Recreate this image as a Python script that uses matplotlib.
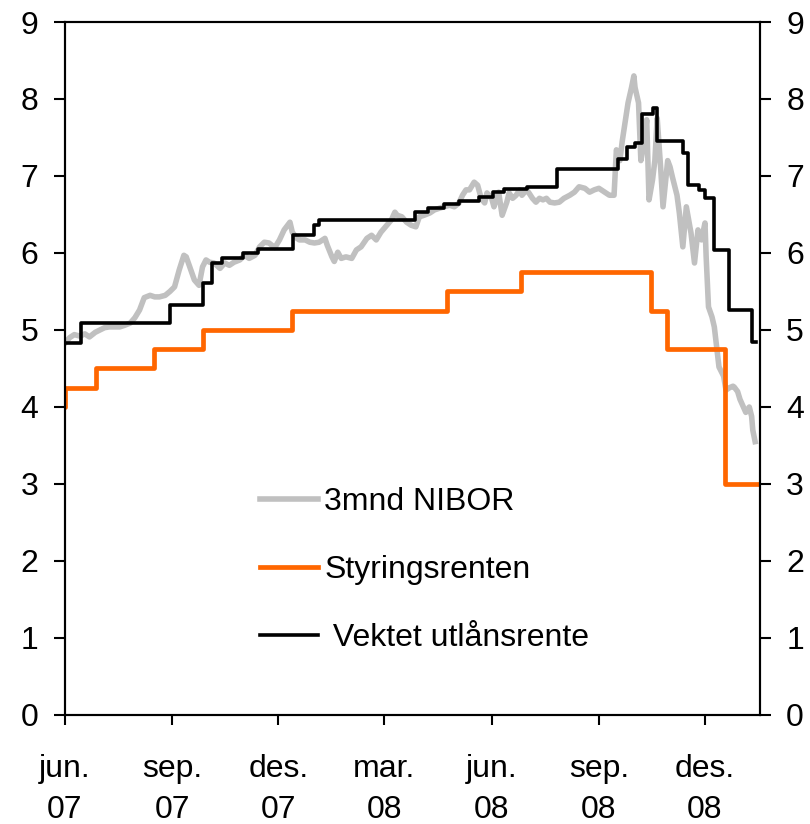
import matplotlib
matplotlib.use("Agg")
import matplotlib.pyplot as plt
import pandas as pd

plt.rcParams['font.family'] = ['Liberation Sans', 'DejaVu Sans']

# 3mnd NIBOR
nibor_dates = [
    "2007-06-01", "2007-06-05", "2007-06-09", "2007-06-14", "2007-06-18", "2007-06-22", "2007-06-27",
    "2007-07-01", "2007-07-05", "2007-07-09", "2007-07-14", "2007-07-18", "2007-07-22", "2007-07-27",
    "2007-07-31", "2007-08-04", "2007-08-08", "2007-08-13", "2007-08-17", "2007-08-21", "2007-08-26",
    "2007-08-30", "2007-09-03", "2007-09-07", "2007-09-11", "2007-09-13", "2007-09-16", "2007-09-20",
    "2007-09-24", "2007-09-27", "2007-09-30", "2007-10-03", "2007-10-07", "2007-10-12", "2007-10-16",
    "2007-10-20", "2007-10-24", "2007-10-29", "2007-11-02", "2007-11-06", "2007-11-11", "2007-11-15",
    "2007-11-19", "2007-11-23", "2007-11-28", "2007-12-02", "2007-12-06", "2007-12-11", "2007-12-13",
    "2007-12-17", "2007-12-19", "2007-12-24", "2007-12-28", "2008-01-01", "2008-01-05", "2008-01-10",
    "2008-01-12", "2008-01-16", "2008-01-18", "2008-01-21", "2008-01-24", "2008-01-28", "2008-02-02",
    "2008-02-06", "2008-02-10", "2008-02-15", "2008-02-19", "2008-02-23", "2008-02-27", "2008-03-03",
    "2008-03-07", "2008-03-10", "2008-03-12", "2008-03-16", "2008-03-20", "2008-03-24", "2008-03-28",
    "2008-03-31", "2008-04-04", "2008-04-09", "2008-04-13", "2008-04-17", "2008-04-21", "2008-04-26",
    "2008-04-30", "2008-05-04", "2008-05-07", "2008-05-10", "2008-05-13", "2008-05-17", "2008-05-20",
    "2008-05-23", "2008-05-26", "2008-05-28", "2008-06-01", "2008-06-03", "2008-06-07", "2008-06-10",
    "2008-06-14", "2008-06-16", "2008-06-19", "2008-06-22", "2008-06-25", "2008-06-27", "2008-07-01",
    "2008-07-03", "2008-07-06", "2008-07-09", "2008-07-12", "2008-07-15", "2008-07-18", "2008-07-21",
    "2008-07-25", "2008-07-29", "2008-08-02", "2008-08-07", "2008-08-11", "2008-08-15", "2008-08-20",
    "2008-08-24", "2008-08-28", "2008-09-01", "2008-09-06", "2008-09-10", "2008-09-14", "2008-09-16",
    "2008-09-19", "2008-09-21", "2008-09-24", "2008-09-26", "2008-09-29", "2008-10-01", "2008-10-02",
    "2008-10-05", "2008-10-07", "2008-10-10", "2008-10-12", "2008-10-14", "2008-10-17", "2008-10-19",
    "2008-10-21", "2008-10-24", "2008-10-26", "2008-10-28", "2008-10-30", "2008-11-01", "2008-11-03",
    "2008-11-07", "2008-11-09", "2008-11-12", "2008-11-15", "2008-11-19", "2008-11-22", "2008-11-25",
    "2008-11-28", "2008-12-01", "2008-12-02", "2008-12-04", "2008-12-07", "2008-12-09", "2008-12-11",
    "2008-12-13", "2008-12-17", "2008-12-19", "2008-12-22", "2008-12-25", "2008-12-26", "2008-12-29",
    "2008-12-31", "2009-01-03", "2009-01-05", "2009-01-08", "2009-01-10", "2009-01-11", "2009-01-13",
]
nibor_vals = [
    4.83, 4.90, 4.94, 4.92, 4.95, 4.91, 4.97,
    5.00, 5.03, 5.04, 5.04, 5.04, 5.06, 5.09,
    5.16, 5.26, 5.42, 5.45, 5.43, 5.43, 5.45,
    5.50, 5.56, 5.78, 5.97, 5.95, 5.82, 5.65,
    5.58, 5.82, 5.91, 5.88, 5.87, 5.80, 5.87,
    5.84, 5.88, 5.91, 5.97, 5.93, 5.97, 6.08,
    6.14, 6.13, 6.07, 6.17, 6.30, 6.40, 6.27,
    6.19, 6.17, 6.17, 6.14, 6.13, 6.14, 6.19,
    6.10, 5.95, 5.89, 6.01, 5.93, 5.95, 5.93,
    6.04, 6.08, 6.19, 6.23, 6.17, 6.27, 6.36,
    6.43, 6.53, 6.49, 6.47, 6.40, 6.36, 6.34,
    6.47, 6.49, 6.52, 6.56, 6.58, 6.60, 6.62,
    6.60, 6.65, 6.75, 6.82, 6.82, 6.92, 6.88,
    6.71, 6.65, 6.78, 6.71, 6.60, 6.79, 6.49,
    6.66, 6.78, 6.71, 6.75, 6.82, 6.75, 6.82,
    6.78, 6.71, 6.66, 6.71, 6.69, 6.71, 6.66,
    6.65, 6.66, 6.71, 6.75, 6.79, 6.86, 6.84,
    6.79, 6.82, 6.84, 6.79, 6.75, 6.75, 7.34,
    7.20, 7.45, 7.75, 7.95, 8.15, 8.30, 8.15,
    7.95, 7.20, 7.45, 7.73, 6.69, 6.95, 7.20,
    7.75, 7.10, 6.60, 6.90, 7.20, 7.12, 6.99,
    6.75, 6.52, 6.08, 6.60, 6.26, 5.87, 6.30,
    6.17, 6.39, 5.95, 5.30, 5.17, 5.04, 4.78,
    4.52, 4.40, 4.22, 4.25, 4.27, 4.26, 4.20,
    4.10, 4.00, 3.93, 4.00, 3.88, 3.70, 3.55,
]

# Styringsrenten (policy rate), step changes
policy_dates = ["2007-05-31", "2007-06-01", "2007-06-28", "2007-08-16", "2007-09-27", "2007-12-13",
                "2008-04-24", "2008-06-26", "2008-10-16", "2008-10-29", "2008-12-18", "2009-01-17"]
policy_vals = [4.00, 4.25, 4.50, 4.75, 5.00, 5.25, 5.50, 5.75, 5.25, 4.75, 3.00, 3.00]

# Vektet utlånsrente (weighted lending rate), step changes
lending_dates = ["2007-06-01", "2007-06-15", "2007-08-30", "2007-09-27", "2007-10-05", "2007-10-14",
                 "2007-11-01", "2007-11-14", "2007-12-14", "2008-01-01", "2008-01-05", "2008-03-27",
                 "2008-04-07", "2008-04-21", "2008-05-04", "2008-05-21", "2008-06-02", "2008-06-12",
                 "2008-07-01", "2008-07-27", "2008-09-17", "2008-09-25", "2008-10-02", "2008-10-08",
                 "2008-10-17", "2008-10-21", "2008-11-12", "2008-11-16", "2008-11-26", "2008-12-01",
                 "2008-12-09", "2008-12-22", "2009-01-10", "2009-01-14"]
lending_vals = [4.83, 5.09, 5.32, 5.61, 5.87, 5.94,
                6.00, 6.05, 6.24, 6.37, 6.43, 6.53,
                6.58, 6.64, 6.68, 6.73, 6.79, 6.83,
                6.86, 7.09, 7.22, 7.38, 7.43, 7.80,
                7.88, 7.45, 7.30, 6.88, 6.82, 6.71,
                6.04, 5.26, 4.85, 4.85]

tick_dates = ["2007-06-01", "2007-09-01", "2007-12-01", "2008-03-01", "2008-06-01", "2008-09-01", "2008-12-01"]
tick_labels = ["jun.\n07", "sep.\n07", "des.\n07", "mar.\n08", "jun.\n08", "sep.\n08", "des.\n08"]

fig = plt.figure(figsize=(8.1, 8.24), dpi=100)
ax = fig.add_axes([0.0802, 0.1323, 0.8578, 0.8410])

ax.plot(pd.to_datetime(nibor_dates), nibor_vals, color='#c0c0c0', lw=4.0,
        solid_joinstyle='round', label='3mnd NIBOR', zorder=1)
ax.plot(pd.to_datetime(policy_dates), policy_vals, color='#ff6600', lw=3.4,
        drawstyle='steps-post', label='Styringsrenten', zorder=2)
ax.plot(pd.to_datetime(lending_dates), lending_vals, color='black', lw=2.6,
        drawstyle='steps-post', label=' Vektet utlånsrente', zorder=3)

ax.set_xlim(pd.Timestamp("2007-06-01"), pd.Timestamp("2009-01-17"))
ax.set_ylim(0, 9)
ax.set_yticks(range(0, 10))
ax.set_xticks(pd.to_datetime(tick_dates))
ax.set_xticklabels(tick_labels, linespacing=1.5)

ax2 = ax.twinx()
ax2.set_ylim(0, 9)
ax2.set_yticks(range(0, 10))

for a in (ax, ax2):
    for s in a.spines.values():
        s.set_linewidth(1.5)
    a.tick_params(axis='both', direction='out', length=8, width=1.5,
                  labelsize=23, pad=11)
ax.tick_params(axis='x', length=7, pad=21)

ax.legend(loc='upper left', bbox_to_anchor=(0.24, 0.37), frameon=False, fontsize=23,
          handlelength=1.8, handletextpad=0.2, labelspacing=1.18)

fig.savefig('out.png', dpi=100)
